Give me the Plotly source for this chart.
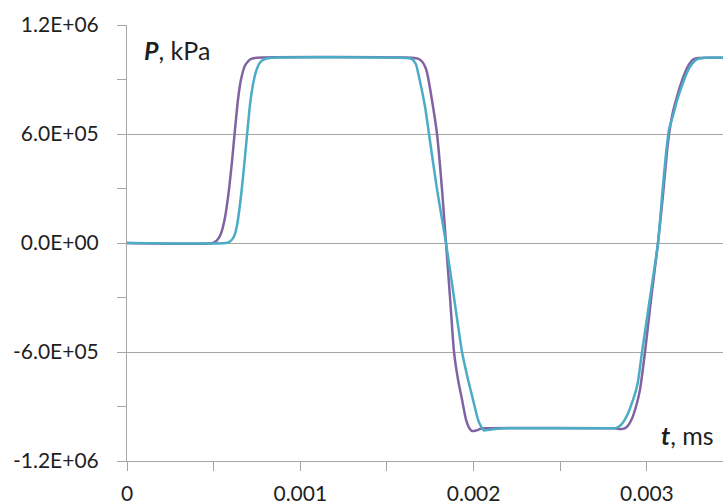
import plotly.graph_objects as go

# time values (as on the axis) and pressure values
t_purple = [0, 0.4963e-3, 0.5193e-3, 0.5424e-3, 0.5655e-3, 0.5886e-3, 0.6059e-3, 0.6232e-3,
            0.6405e-3, 0.6578e-3, 0.6809e-3, 0.7098e-3, 0.7501e-3, 1.6445e-3,
            1.6792e-3, 1.7022e-3, 1.7195e-3, 1.7311e-3, 1.7657e-3, 1.7888e-3, 1.8176e-3,
            1.8407e-3, 1.8638e-3, 1.8869e-3, 1.9100e-3, 1.9331e-3, 1.9561e-3, 1.9734e-3,
            1.9907e-3, 2.0139e-3, 2.0369e-3, 2.0715e-3, 2.8159e-3, 2.8448e-3, 2.8678e-3,
            2.8909e-3, 2.9140e-3, 2.9371e-3, 2.9602e-3, 2.9890e-3, 3.0236e-3, 3.0640e-3,
            3.0929e-3, 3.1160e-3, 3.1333e-3, 3.1506e-3, 3.1737e-3, 3.1967e-3, 3.2198e-3,
            3.2429e-3, 3.2660e-3, 3.2949e-3, 3.3295e-3, 3.4795e-3]
p_purple = [0, 0, 1.38e4, 5.23e4, 1.404e5, 2.95e5, 4.49e5, 6.25e5, 7.90e5, 9.0e5, 9.77e5,
            1.010e6, 1.02e6, 1.02e6, 1.015e6, 9.99e5, 9.72e5, 9.39e5, 7.51e5, 6.0e5,
            2.95e5, 0, -3.0e5, -6.0e5, -7.51e5, -8.62e5, -9.72e5, -1.016e6, -1.035e6,
            -1.032e6, -1.024e6, -1.02e6, -1.02e6, -1.024e6, -1.022e6, -1.005e6, -9.66e5,
            -9.0e5, -8.06e5, -6.0e5, -3.11e5, 0,
            2.67e5, 5.04e5, 6.36e5, 7.24e5, 8.06e5, 8.78e5, 9.39e5,
            9.83e5, 1.010e6, 1.018e6, 1.02e6, 1.02e6]

t_teal = [0, 0.5713e-3, 0.5943e-3, 0.6174e-3, 0.6347e-3, 0.6520e-3, 0.6694e-3, 0.6924e-3,
          0.7098e-3, 0.7271e-3, 0.7444e-3, 0.7675e-3, 0.7963e-3, 0.8367e-3, 1.5753e-3,
          1.6157e-3, 1.6445e-3, 1.6676e-3, 1.6792e-3, 1.7195e-3, 1.7426e-3, 1.7888e-3,
          1.8407e-3, 1.8869e-3, 1.9331e-3, 1.9677e-3, 1.9965e-3, 2.0254e-3, 2.0427e-3,
          2.0600e-3, 2.0831e-3, 2.1235e-3, 2.1812e-3, 2.7871e-3, 2.8159e-3, 2.8390e-3,
          2.8621e-3, 2.8852e-3, 2.9082e-3, 2.9313e-3, 2.9486e-3, 2.9717e-3, 3.0179e-3,
          3.0640e-3, 3.0871e-3, 3.1102e-3, 3.1275e-3, 3.1506e-3, 3.1737e-3, 3.1967e-3,
          3.2198e-3, 3.2429e-3, 3.2718e-3, 3.3007e-3, 3.3411e-3, 3.4795e-3]
p_teal = [0, 0, 8.3e3, 3.58e4, 9.63e4, 2.12e5, 3.61e5, 5.92e5, 7.62e5, 8.73e5, 9.44e5,
          9.94e5, 1.013e6, 1.02e6, 1.02e6, 1.018e6, 1.012e6, 9.83e5, 9.39e5, 7.51e5, 6.0e5,
          2.95e5, 0, -3.0e5, -6.0e5, -7.51e5, -8.62e5, -9.72e5, -1.01e6, -1.032e6,
          -1.029e6, -1.024e6, -1.02e6, -1.02e6, -1.019e6, -1.01e6, -9.88e5, -9.50e5,
          -8.95e5, -8.29e5, -7.62e5, -6.0e5, -3.0e5, 0,
          2.56e5, 4.93e5, 6.25e5, 7.02e5, 7.84e5, 8.51e5,
          9.11e5, 9.61e5, 9.99e5, 1.015e6, 1.02e6, 1.02e6]

x_tickvals = [0, 0.001, 0.002, 0.003]
x_ticktext = ["0", "0.001", "0.002", "0.003"]
y_tickvals = [1.2e6, 6.0e5, 0, -6.0e5, -1.2e6]
y_ticktext = ["1.2E+06", "6.0E+05", "0.0E+00", "-6.0E+05", "-1.2E+06"]

FONT = "Lato, 'Open Sans', sans-serif"
GRID = "#a6a6a6"

fig = go.Figure()
fig.add_trace(go.Scatter(x=t_purple, y=p_purple, mode="lines",
                         line=dict(color="#8064A2", width=2.5, shape="spline", smoothing=0.5),
                         showlegend=False, hoverinfo="skip"))
fig.add_trace(go.Scatter(x=t_teal, y=p_teal, mode="lines",
                         line=dict(color="#4BACC6", width=2.5, shape="spline", smoothing=0.5),
                         showlegend=False, hoverinfo="skip"))

fig.update_layout(
    width=723, height=504,
    margin=dict(l=127, r=0, t=25, b=43, autoexpand=False),
    paper_bgcolor="white", plot_bgcolor="white",
    font=dict(family=FONT, size=21, color="#1f1f1f"),
    xaxis=dict(range=[0, 0.003439], tickvals=x_tickvals, ticktext=x_ticktext,
               showgrid=False, zeroline=False, showline=True, linecolor=GRID, linewidth=1,
               ticks="outside", ticklen=9, tickcolor=GRID, tickwidth=1,
               ticklabelstandoff=5,
               minor=dict(dtick=0.0005, tick0=0, ticks="outside", ticklen=9,
                          tickcolor=GRID, showgrid=False)),
    yaxis=dict(range=[-1.2e6, 1.2e6], tickvals=y_tickvals, ticktext=y_ticktext,
               showgrid=True, gridcolor=GRID, gridwidth=1, zeroline=False,
               showline=True, linecolor=GRID, linewidth=1,
               ticks="outside", ticklen=9, tickcolor=GRID, tickwidth=1,
               ticklabelstandoff=14,
               minor=dict(dtick=3e5, tick0=0, ticks="outside", ticklen=9,
                          tickcolor=GRID, showgrid=False)),
    annotations=[
        dict(text="<b><i>P</i></b>, kPa", xref="paper", yref="paper", x=0.026, y=0.943,
             xanchor="left", yanchor="middle", showarrow=False,
             font=dict(family=FONT, size=25, color="#1f1f1f")),
        dict(text="<b><i>t</i></b>, ms", xref="paper", yref="paper", x=0.988, y=0.06,
             xanchor="right", yanchor="middle", showarrow=False,
             font=dict(family=FONT, size=25, color="#1f1f1f")),
    ],
)

fig.write_html("out.html", config={"displayModeBar": False},
               post_script="document.body.style.margin='0';document.body.style.overflow='hidden';")
